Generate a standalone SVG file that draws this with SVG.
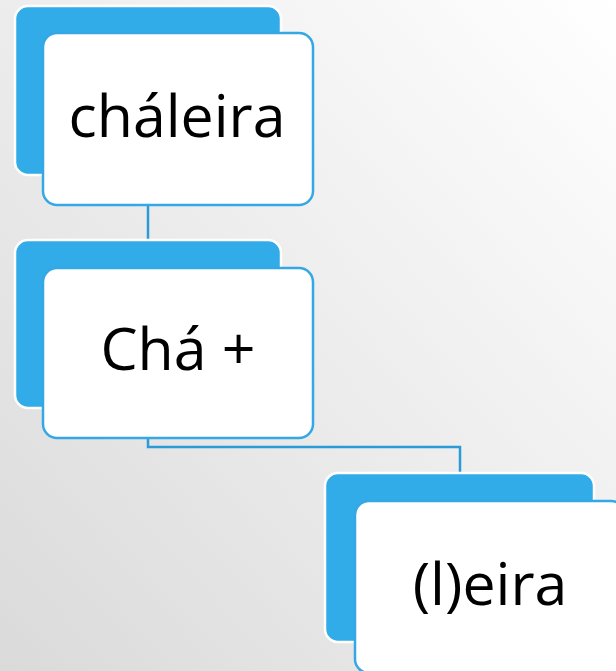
<svg xmlns="http://www.w3.org/2000/svg" width="616" height="671" viewBox="0 0 616 671">
<defs>
<linearGradient id="bg" x1="1" y1="0" x2="0" y2="1">
<stop offset="0" stop-color="#ffffff"/>
<stop offset="1" stop-color="#dadada"/>
</linearGradient>
</defs>
<style>
.back{fill:#32abe9;stroke:#ffffff;stroke-width:2.5}
.front{fill:#ffffff;stroke:#33a8e4;stroke-width:2.5}
.lbl{font-family:"Open Sans","Noto Sans",sans-serif;font-size:59px;fill:#000;text-anchor:middle}
.conn{fill:none;stroke:#2b9bd8;stroke-width:2.5}
</style>
<rect width="616" height="671" fill="url(#bg)"/>
<g id="connectors">
<path class="conn" d="M148 205V242"/>
<path class="conn" d="M148 438V447H460V474"/>
</g>
<g id="node1">
<rect class="back" x="15" y="6" width="266" height="169" rx="13"/>
<rect class="front" x="43" y="33" width="270" height="172" rx="14"/>
<text class="lbl" x="177" y="137">cháleira</text>
</g>
<g id="node2">
<rect class="back" x="15" y="240" width="266" height="168" rx="13"/>
<rect class="front" x="43" y="268" width="270" height="170" rx="14"/>
<text class="lbl" x="178" y="370">Chá +</text>
</g>
<g id="node3">
<rect class="back" x="325" y="473" width="269" height="169" rx="13"/>
<rect class="front" x="355" y="501" width="270" height="172" rx="14"/>
<text class="lbl" x="490" y="605">(l)eira</text>
</g>
</svg>
